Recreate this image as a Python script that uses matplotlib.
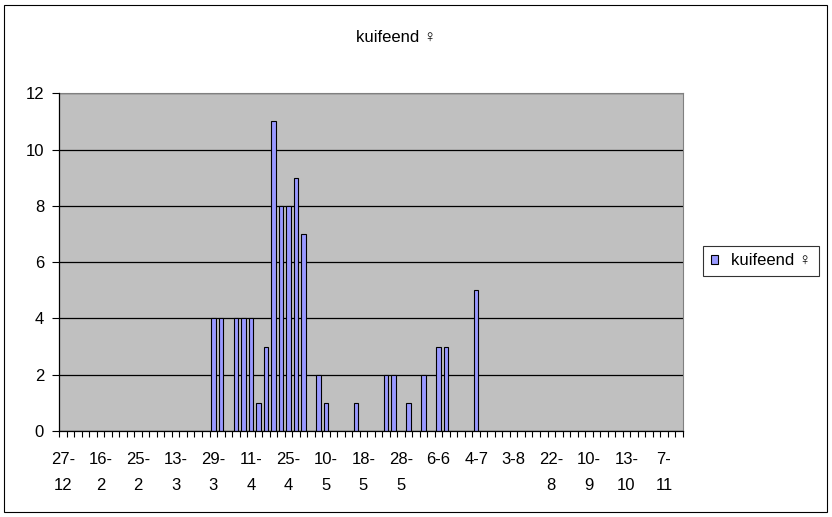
import matplotlib
matplotlib.use("Agg")
import matplotlib.pyplot as plt
from matplotlib.patches import Rectangle

# ---- data ----
title = "kuifeend \u2640"
series_name = "kuifeend \u2640"
tick_labels = ["27-\n12", "16-\n2", "25-\n2", "13-\n3", "29-\n3", "11-\n4", "25-\n4",
               "10-\n5", "18-\n5", "28-\n5", "6-6", "4-7", "3-8", "22-\n8", "10-\n9",
               "13-\n10", "7-\n11"]
label_step = 5
counts = [0, 0, 0, 0, 0, 0, 0, 0, 0, 0,
          0, 0, 0, 0, 0, 0, 0, 0, 0, 0,
          4, 4, 0, 4, 4, 4, 1, 3, 11, 8,
          8, 9, 7, 0, 2, 1, 0, 0, 0, 1,
          0, 0, 0, 2, 2, 0, 1, 0, 2, 0,
          3, 3, 0, 0, 0, 5, 0, 0, 0, 0,
          0, 0, 0, 0, 0, 0, 0, 0, 0, 0,
          0, 0, 0, 0, 0, 0, 0, 0, 0, 0,
          0, 0, 0]
y_ticks = [0, 2, 4, 6, 8, 10, 12]

# ---- style ----
FONT = ["Liberation Sans", "DejaVu Sans"]
plt.rcParams["font.family"] = FONT
FS = 12
W, H = 832, 517
fig = plt.figure(figsize=(W / 100, H / 100), dpi=100)
fig.patch.set_facecolor("white")

def fx(px):
    return px / W

def fy(py):
    return 1 - py / H

# outer chart border
fig.patches.append(Rectangle((fx(4), fy(512)), fx(827) - fx(4), fy(5) - fy(512),
                             transform=fig.transFigure, fill=False,
                             edgecolor="black", linewidth=0.8))

left, right, top, bottom = 59.3, 682.7, 93.3, 431.0
ax = fig.add_axes([fx(left), fy(bottom), fx(right) - fx(left), fy(top) - fy(bottom)])
ax.set_facecolor("#C0C0C0")

n = len(counts)
xs = [i for i, v in enumerate(counts) if v > 0]
vs = [v for v in counts if v > 0]
ax.bar(xs, vs, width=0.6, color="#9999FF", edgecolor="black", linewidth=0.8,
       zorder=3, label=series_name)

ax.set_xlim(-0.5, n - 0.5)
ax.set_ylim(0, 12)

# y axis
ax.set_yticks(y_ticks)
ax.set_yticklabels([str(t) for t in y_ticks])
ax.yaxis.grid(True, color="black", linewidth=0.9, zorder=1)
ax.set_axisbelow(True)
ax.tick_params(axis="y", direction="out", length=5, width=0.8, pad=6,
               labelsize=FS, colors="black")

# x axis: labels at category centres, ticks at category boundaries
major = list(range(0, n, label_step))[:len(tick_labels)]
ax.set_xticks(major)
ax.set_xticklabels(tick_labels, linespacing=1.95, multialignment="center")
ax.set_xticks([i - 0.5 for i in range(n + 1)], minor=True)
ax.tick_params(axis="x", which="major", length=0, pad=15, labelsize=FS)
ax.tick_params(axis="x", which="minor", direction="out", length=4.5, width=0.8)

for s in ["top", "right"]:
    ax.spines[s].set_color("#808080")
    ax.spines[s].set_linewidth(0.8)
for s in ["left", "bottom"]:
    ax.spines[s].set_color("black")
    ax.spines[s].set_linewidth(0.9)
    ax.spines[s].set_zorder(4)

fig.text(fx(396), fy(38), title, ha="center", va="center", fontsize=FS)

leg = fig.legend(loc="center", bbox_to_anchor=(fx(760.9), fy(260.9)),
                 frameon=True, fancybox=False, shadow=False, fontsize=FS,
                 handlelength=0.45, handleheight=0.45, handletextpad=0.75,
                 borderpad=0.45, borderaxespad=0)
leg.get_frame().set_edgecolor("black")
leg.get_frame().set_linewidth(0.8)

fig.savefig("out.png", dpi=100, facecolor="white")
